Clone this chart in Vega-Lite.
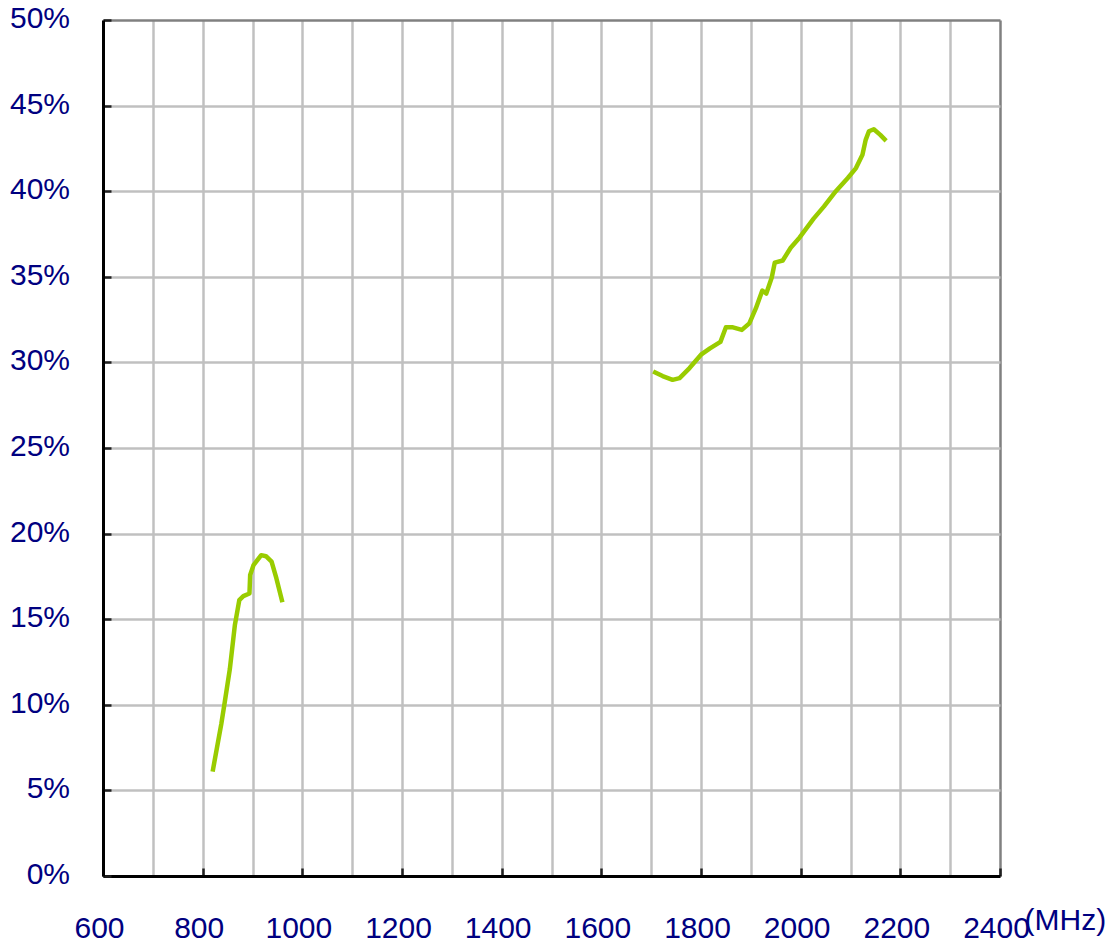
{
  "$schema": "https://vega.github.io/schema/vega-lite/v6.json",
  "autosize": {"type": "none"},
  "width": 897,
  "height": 856,
  "padding": {"left": 103, "top": 20, "right": 108, "bottom": 70},
  "background": "white",
  "config": {
    "view": {"stroke": null},
    "font": "Liberation Sans"
  },
  "data": {
    "values": [
      {"band": "A", "freq": 820, "eff": 6.1},
      {"band": "A", "freq": 837.5, "eff": 8.9},
      {"band": "A", "freq": 844, "eff": 10.1},
      {"band": "A", "freq": 854.5, "eff": 12.08},
      {"band": "A", "freq": 864.7, "eff": 14.67},
      {"band": "A", "freq": 873.5, "eff": 16.12},
      {"band": "A", "freq": 881.6, "eff": 16.35},
      {"band": "A", "freq": 893.9, "eff": 16.5},
      {"band": "A", "freq": 895.3, "eff": 17.58},
      {"band": "A", "freq": 902, "eff": 18.16},
      {"band": "A", "freq": 917.5, "eff": 18.74},
      {"band": "A", "freq": 927, "eff": 18.68},
      {"band": "A", "freq": 938.3, "eff": 18.36},
      {"band": "A", "freq": 948, "eff": 17.38},
      {"band": "A", "freq": 960, "eff": 15.99},
      {"band": "B", "freq": 1704, "eff": 29.47},
      {"band": "B", "freq": 1723, "eff": 29.2},
      {"band": "B", "freq": 1743, "eff": 28.98},
      {"band": "B", "freq": 1757, "eff": 29.08},
      {"band": "B", "freq": 1777, "eff": 29.67},
      {"band": "B", "freq": 1800, "eff": 30.45},
      {"band": "B", "freq": 1818, "eff": 30.82},
      {"band": "B", "freq": 1839, "eff": 31.2},
      {"band": "B", "freq": 1850, "eff": 32.05},
      {"band": "B", "freq": 1864, "eff": 32.05},
      {"band": "B", "freq": 1882, "eff": 31.9},
      {"band": "B", "freq": 1897, "eff": 32.28},
      {"band": "B", "freq": 1910, "eff": 33.15},
      {"band": "B", "freq": 1923, "eff": 34.2},
      {"band": "B", "freq": 1931, "eff": 34.02},
      {"band": "B", "freq": 1942, "eff": 34.96},
      {"band": "B", "freq": 1948, "eff": 35.83},
      {"band": "B", "freq": 1964, "eff": 35.95},
      {"band": "B", "freq": 1980, "eff": 36.7},
      {"band": "B", "freq": 1998, "eff": 37.3},
      {"band": "B", "freq": 2026, "eff": 38.4},
      {"band": "B", "freq": 2046.5, "eff": 39.1},
      {"band": "B", "freq": 2070.6, "eff": 40.0},
      {"band": "B", "freq": 2094.6, "eff": 40.77},
      {"band": "B", "freq": 2111, "eff": 41.35},
      {"band": "B", "freq": 2124, "eff": 42.13},
      {"band": "B", "freq": 2130.5, "eff": 43.0},
      {"band": "B", "freq": 2137, "eff": 43.5},
      {"band": "B", "freq": 2146.8, "eff": 43.62},
      {"band": "B", "freq": 2159.8, "eff": 43.29},
      {"band": "B", "freq": 2171.5, "eff": 42.94}
    ]
  },
  "mark": {"type": "line", "color": "#99cc00", "strokeWidth": 4.5, "strokeJoin": "round", "strokeCap": "butt"},
  "encoding": {
    "x": {
      "field": "freq",
      "type": "quantitative",
      "scale": {"domain": [600, 2400], "nice": false, "zero": false},
      "axis": {
        "values": [600, 700, 800, 900, 1000, 1100, 1200, 1300, 1400, 1500, 1600, 1700, 1800, 1900, 2000, 2100, 2200, 2300, 2400],
        "labelExpr": "datum.value % 200 === 0 ? datum.label : ''",
        "format": "d",
        "grid": true,
        "gridColor": {"condition": {"test": "datum.value === 2400", "value": "#808080"}, "value": "#c0c0c0"},
        "gridWidth": 2.5,
        "domainColor": "black",
        "domainWidth": 3,
        "tickColor": {"condition": {"test": "datum.value % 200 === 0", "value": "#202020"}, "value": "transparent"},
        "tickWidth": 2.5,
        "tickSize": -8,
        "labelPadding": 69.5,
        "labelBaseline": "alphabetic",
        "labelOffset": -4,
        "labelFontSize": 30,
        "labelFont": "Liberation Sans",
        "labelColor": "#000080",
        "labelFlush": false,
        "labelOverlap": false,
        "title": "(MHz)",
        "titleX": 921,
        "titleY": 53.5,
        "titleAlign": "left",
        "titleBaseline": "alphabetic",
        "titleFontSize": 30,
        "titleFontWeight": "normal",
        "titleFont": "Liberation Sans",
        "titleColor": "#000080"
      }
    },
    "y": {
      "field": "eff",
      "type": "quantitative",
      "scale": {"domain": [0, 50], "nice": false},
      "axis": {
        "values": [0, 5, 10, 15, 20, 25, 30, 35, 40, 45, 50],
        "labelExpr": "datum.value + '%'",
        "grid": true,
        "gridColor": {"condition": {"test": "datum.value === 50", "value": "#808080"}, "value": "#c0c0c0"},
        "gridWidth": 2.5,
        "domainColor": "black",
        "domainWidth": 3,
        "tickColor": "#202020",
        "tickWidth": 2.5,
        "tickSize": -8,
        "labelPadding": 41.5,
        "labelOffset": -1.5,
        "labelFontSize": 30,
        "labelFont": "Liberation Sans",
        "labelColor": "#000080",
        "labelFlush": false,
        "labelOverlap": false,
        "title": null
      }
    },
    "detail": {"field": "band", "type": "nominal"}
  }
}
